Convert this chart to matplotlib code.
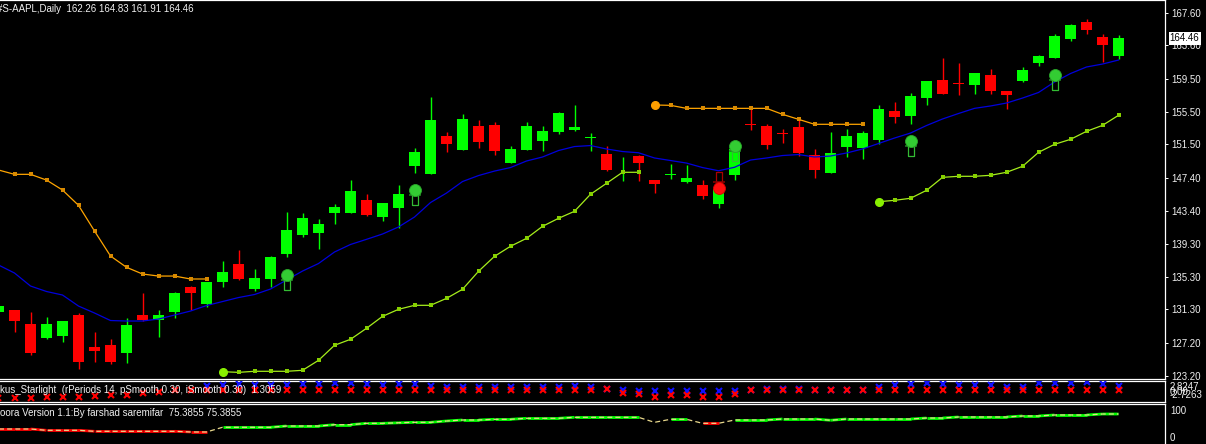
import numpy as np
import matplotlib
matplotlib.use("Agg")
import matplotlib.pyplot as plt
from matplotlib.transforms import offset_copy
from matplotlib.collections import LineCollection

# ---------------- data ----------------
title_text = "#S-AAPL,Daily  162.26 164.83 161.91 164.46"
starlight_text = "kus_Starlight  (rPeriods 14, pSmooth 0.30, iSmooth 0.30)  1.3059"
zoora_text = "oora Version 1.1:By farshad saremifar  75.3855 75.3855"

bar_index = list(range(-1, 70))

opens = [131.03, 131.24, 129.52, 127.81, 128.05, 130.62, 126.71, 126.95, 126.01, 130.62,
         130.05, 131.03, 134.05, 132.00, 134.70, 136.86, 133.84, 135.06, 138.12, 140.44,
         140.69, 143.13, 143.13, 144.69, 142.65, 143.75, 148.88, 147.90, 152.52, 150.84,
         153.74, 153.86, 149.25, 150.84, 151.94, 153.04, 153.29, 152.29, 150.31, 148.79,
         150.07, 147.13, 147.76, 146.93, 146.52, 144.24, 147.75, 153.88, 153.74, 152.82,
         153.62, 150.19, 148.03, 151.21, 151.08, 152.06, 155.57, 155.00, 157.20, 159.37,
         158.90, 158.79, 159.98, 158.02, 159.28, 161.48, 162.09, 164.42, 166.46, 164.62,
         162.26]
highs = [131.90, 131.24, 130.99, 130.34, 129.89, 130.90, 128.54, 127.69, 130.22, 133.31,
         131.24, 133.44, 134.17, 134.66, 137.23, 138.57, 136.25, 137.84, 143.22, 143.10,
         142.36, 144.20, 147.13, 145.42, 144.32, 146.52, 151.05, 157.29, 153.01, 155.21,
         154.47, 154.23, 151.29, 154.23, 153.74, 155.45, 156.31, 152.88, 151.29, 149.91,
         150.19, 147.13, 149.13, 148.97, 147.17, 146.40, 151.05, 156.15, 153.98, 153.37,
         154.60, 150.93, 153.01, 153.37, 153.13, 156.31, 156.67, 157.78, 159.24, 162.06,
         161.44, 160.22, 160.71, 158.02, 160.96, 162.42, 164.99, 166.21, 166.83, 164.99,
         164.83]
lows = [130.80, 128.58, 125.73, 127.69, 127.36, 124.05, 124.91, 124.67, 124.79, 129.93,
        127.97, 130.29, 131.27, 131.64, 134.08, 134.94, 133.59, 134.08, 137.75, 140.20,
        138.73, 141.79, 143.13, 142.77, 142.16, 141.30, 148.03, 147.90, 150.60, 150.84,
        151.08, 150.23, 149.25, 150.84, 150.72, 152.80, 153.16, 150.72, 148.27, 147.05,
        147.05, 145.58, 147.29, 146.80, 144.85, 143.75, 147.17, 153.29, 150.96, 151.70,
        150.11, 147.42, 148.03, 149.98, 149.74, 151.57, 154.14, 154.02, 156.34, 157.69,
        157.57, 157.69, 157.69, 155.85, 159.16, 161.11, 162.09, 164.17, 165.03, 161.60,
        161.91]
closes = [131.73, 129.93, 126.01, 129.52, 129.89, 124.91, 126.26, 124.91, 129.40, 130.05,
          130.62, 133.31, 133.35, 134.66, 135.88, 135.06, 135.15, 137.72, 141.02, 142.49,
          141.75, 143.83, 145.79, 142.89, 144.32, 145.42, 150.56, 154.47, 151.57, 154.60,
          151.82, 150.72, 150.93, 153.74, 153.13, 155.33, 153.62, 152.33, 148.39, 148.83,
          149.25, 146.68, 147.80, 147.38, 145.21, 146.03, 150.93, 153.84, 151.45, 152.78,
          150.47, 148.39, 150.44, 152.52, 152.88, 155.82, 154.88, 157.41, 159.24, 157.69,
          158.86, 160.22, 158.06, 157.57, 160.59, 162.30, 164.75, 166.09, 165.52, 163.68,
          164.46]

ma_line = [136.74, 135.76, 134.17, 133.50, 133.07, 131.72, 130.87, 129.95, 129.89, 129.89,
           130.13, 130.62, 131.11, 131.78, 132.27, 132.76, 133.13, 133.80, 134.90, 136.00,
           136.92, 138.33, 139.25, 139.88, 140.53, 141.39, 142.61, 144.38, 145.54, 146.95,
           147.68, 148.23, 148.66, 149.46, 149.95, 150.74, 151.23, 151.35, 150.93, 150.62,
           150.47, 149.83, 149.52, 149.21, 148.66, 148.27, 148.69, 149.58, 149.83, 150.13,
           150.25, 149.95, 150.07, 150.44, 150.93, 151.60, 152.27, 152.88, 153.80, 154.60,
           155.27, 155.90, 156.19, 156.55, 157.16, 157.84, 159.12, 160.16, 160.96, 161.32,
           161.81]

orange_stop = [148.36, 147.83, 147.83, 147.13, 145.91, 144.04, 140.90, 137.84, 136.46, 135.64,
               135.39, 135.39, 135.03, 135.03,
               None, None, None, None, None, None, None, None, None, None,
               None, None, None, None, None, None, None, None, None, None,
               None, None, None, None, None, None, None,
               156.31, 156.27, 155.90, 155.90, 155.90, 155.90, 155.90, 155.90, 155.17, 154.56,
               153.95, 153.95, 153.95, 153.95,
               None, None, None, None, None, None, None, None, None, None,
               None, None, None, None, None, None]

lime_stop = [None, None, None, None, None, None, None, None, None, None,
             None, None, None, None,
             123.69, 123.61, 123.74, 123.74, 123.74, 123.86, 125.08, 126.92, 127.65, 129.00,
             130.46, 131.32, 131.81, 131.81, 132.66, 133.77, 135.97, 137.80, 139.03, 140.00,
             141.47, 142.45, 143.31, 145.39, 146.73, 148.08, 148.08,
             None, None, None, None, None, None, None, None, None, None,
             None, None, None, None,
             144.48, 144.65, 144.90, 145.87, 147.46, 147.59, 147.59, 147.71, 148.08, 148.81,
             150.52, 151.50, 152.11, 153.09, 153.82, 155.05]

up_signal_bar = [17, 25, 45, 56, 65]
up_signal_price = [135.51, 145.91, 151.29, 151.90, 159.98]
down_signal_bar = [44]
down_signal_price = [146.19]

price_ticks = [167.60, 163.60, 159.50, 155.50, 151.50, 147.40, 143.40, 139.30, 135.30,
               131.30, 127.20, 123.20]

starlight_blue = [None, None, None, None, None, None, None, None, None, None, None, None, None,
                  1.38, 1.65, 1.84, 1.65, 1.65, 1.65, 1.84, 1.84, 2.11, 2.11,
                  1.84, 1.65, 1.84, 1.84, 1.46, 1.18, 1.18, 1.18, 1.18, 1.02,
                  1.02, 1.02, 1.18, 1.38, 1.02, 0.56, 0.28, 0.09, 0.09, 0.09,
                  0.09, 0.09, 0.09, 0.09, 0.28, 0.56, 0.56, 0.56, 0.15, 0.15,
                  0.15, 0.15, 1.02, 1.65, 1.84, 2.11, 1.84, 1.65, 1.65, 1.65,
                  1.18, 1.18, 2.11, 2.11, 2.28, 2.47, 1.84, 1.38]
starlight_red = [-1.99, -1.99, -1.99, -1.71, -1.71, -1.71, -1.36, -1.09, -1.09, -0.62,
                 -0.18, 0.28, 0.28, 0.40,
                 0.15, 0.15, 0.15, 0.15, 0.15, 0.15, 0.15, 0.15, 0.15, 0.15, 0.15, 0.15,
                 0.15, 0.15, 0.15, 0.15, 0.15, 0.15, 0.15, 0.15, 0.15, 0.15, 0.15, 0.15,
                 0.42, -0.46, -0.89, -1.71, -1.17, -1.17, -1.55, -1.71, -0.89,
                 0.15, 0.15, 0.15, 0.15, 0.15, 0.15, 0.15, 0.15, 0.15, 0.15, 0.15, 0.15,
                 0.15, 0.15, 0.15, 0.15, 0.15, 0.15, 0.15, 0.15, 0.15, 0.15, 0.15, 0.15]
starlight_range = [-2.7263, 2.8247]

zoora_value = [37.7, 37.7, 37.7, 34.4, 34.4, 34.4, 31.9, 31.9, 31.9, 31.9,
               31.9, 31.9, 30.2, 30.2, 42.0, 42.0, 42.0, 42.0, 45.2, 45.2,
               45.2, 48.5, 48.5, 52.0, 52.0, 53.3, 54.5, 54.5, 57.8, 60.3,
               60.3, 62.1, 62.1, 64.6, 64.6, 64.6, 67.1, 67.1, 67.1, 67.1,
               67.1, 54.5, 62.1, 62.1, 52.0, 52.0, 60.3, 60.3, 60.3, 62.8,
               62.8, 62.8, 59.6, 62.8, 62.8, 62.8, 62.8, 62.8, 65.3, 65.3,
               67.9, 67.9, 67.9, 67.9, 70.4, 70.4, 72.9, 72.9, 72.9, 75.39,
               75.3855]
zoora_trend = ("rrrrrrrrrrrrrr" "ggggggggggggggggggggggggggg" "n" "gg" "rr"
               "ggggggggggggggggggggggggg")

# ---------------- figure ----------------
W, H = 1206, 444
fig = plt.figure(figsize=(W / 100, H / 100), dpi=100, facecolor="black")


def frame(x0, y0, x1, y1):
    return [x0 / W, 1 - y1 / H, (x1 - x0) / W, (y1 - y0) / H]


ax = fig.add_axes(frame(0, 0, 1165, 378.5))
ax2 = fig.add_axes(frame(0, 380.5, 1165, 401.5))
ax3 = fig.add_axes(frame(0, 403.5, 1165, 444))

XLIM = (-0.90625, 71.906)
for a in (ax, ax2, ax3):
    a.set_facecolor("black")
    a.set_xlim(*XLIM)
    a.set_xticks([])
    for s in a.spines.values():
        s.set_color("white")
        s.set_linewidth(0.9)
    a.spines["left"].set_visible(False)
ax3.spines["bottom"].set_visible(False)

GREEN = "#00ff00"
RED = "#ff0000"
FONT = "Liberation Sans"
TXT = "#f0f0f0"

# ---------------- candles ----------------
x = np.array(bar_index, dtype=float)
o = np.array(opens); h = np.array(highs); l = np.array(lows); c = np.array(closes)
cols = np.where(c >= o, GREEN, RED)
ax.vlines(x, l, h, colors=cols, lw=1.0, zorder=2)
body_bottom = np.minimum(o, c)
body_h = np.maximum(np.abs(c - o), 0.12)
ax.bar(x, body_h, bottom=body_bottom, width=0.6875, color=cols, linewidth=0, zorder=2)

# moving average
ax.plot(x, ma_line, color="#0000dd", lw=0.9, zorder=3)


def stop_line(vals, line_col, dot_col, start_col):
    v = np.array(vals, dtype=float)
    ax.plot(x, v, color=line_col, lw=0.9, zorder=4, marker="s", ms=2.3,
            mfc=dot_col, mec=dot_col, mew=0)
    valid = ~np.isnan(v)
    starts = [k for k in range(1, len(v)) if valid[k] and not valid[k - 1]]
    ax.plot(x[starts], v[starts], ls="none", marker="o", ms=5.5,
            mfc=start_col, mec=start_col, zorder=5)


stop_line(orange_stop, "#ffa500", "#d98a00", "#ff9f00")
stop_line(lime_stop, "#a6ee1c", "#86d000", "#88f000")

# signals
up_t = offset_copy(ax.transData, fig=fig, x=0, y=-7.4, units="points")
up_b = offset_copy(ax.transData, fig=fig, x=0, y=-3.9, units="points")
dn_t = offset_copy(ax.transData, fig=fig, x=0, y=7.4, units="points")
dn_b = offset_copy(ax.transData, fig=fig, x=0, y=3.9, units="points")
rect_marker = [(-0.3, -0.5), (0.3, -0.5), (0.3, 0.5), (-0.3, 0.5), (-0.3, -0.5)]

ax.plot(up_signal_bar, up_signal_price, ls="none", marker=rect_marker, ms=7,
        mfc="none", mec="#33bb33", mew=0.9, transform=up_t, zorder=6)
ax.plot(up_signal_bar, up_signal_price, ls="none", marker="_", ms=9,
        mec="#1f7f1f", mew=1.2, transform=up_b, zorder=6)
ax.plot(up_signal_bar, up_signal_price, ls="none", marker="o", ms=8.6,
        mfc="#33cc33", mec="#2aa82a", mew=0.6, zorder=7)

ax.plot(down_signal_bar, down_signal_price, ls="none", marker=rect_marker, ms=7,
        mfc="none", mec="#aa0000", mew=0.9, transform=dn_t, zorder=6)
ax.plot(down_signal_bar, down_signal_price, ls="none", marker="_", ms=9,
        mec="#880000", mew=1.2, transform=dn_b, zorder=6)
ax.plot(down_signal_bar, down_signal_price, ls="none", marker="o", ms=8.6,
        mfc="#ff1010", mec="#dd0000", mew=0.6, zorder=7)

# price axis
ax.set_ylim(122.859, 169.153)
ax.yaxis.tick_right()
ax.set_yticks(price_ticks)
ax.set_yticklabels([f"{t:.2f}" for t in price_ticks], fontfamily=FONT)
ax.tick_params(axis="y", colors="white", labelcolor=TXT, length=2.2, width=0.7,
               labelsize=7, pad=2)
ax.annotate(f"{closes[-1]:.2f}", xy=(1.0, closes[-1]), xycoords=("axes fraction", "data"),
            xytext=(3.4, 0), textcoords="offset points", ha="left", va="center",
            fontsize=7, color="black", fontfamily=FONT, zorder=10, annotation_clip=False,
            bbox=dict(boxstyle="square,pad=0.12", fc="white", ec="none"))

fig.text(-3 / W, 1 - 8.5 / H, title_text, color=TXT, fontsize=7, fontfamily=FONT,
         ha="left", va="center")

# ---------------- starlight panel ----------------
ax2.set_ylim(-2.863, 2.879)
ax2.set_yticks([])
sb = np.array(starlight_blue, dtype=float)
sr = np.array(starlight_red, dtype=float)
ax2.plot(x, sb, ls="none", marker="x", ms=4.0, mew=1.5, color="#1010ff", zorder=3)
ax2.plot(x, sr, ls="none", marker="x", ms=4.0, mew=1.5, color="#ff0000", zorder=4)
fig.text(0, 1 - 389.5 / H, starlight_text, color=TXT, fontsize=7, fontfamily=FONT,
         ha="left", va="center", zorder=10)
fig.text(1170 / W, 1 - 386.5 / H, f"{starlight_range[1]:.4f}", color=TXT, fontsize=7,
         fontfamily=FONT, ha="left", va="center")
fig.text(1170 / W, 1 - 392.0 / H, "0.00", color=TXT, fontsize=7,
         fontfamily=FONT, ha="left", va="center")
fig.text(1170 / W, 1 - 394.5 / H, f"{starlight_range[0]:.4f}", color=TXT, fontsize=7,
         fontfamily=FONT, ha="left", va="center")

# ---------------- zoora panel ----------------
ax3.set_ylim(0, 101.8)
ax3.set_yticks([])
zv = np.array(zoora_value, dtype=float)
segs, seg_cols = [], []
for k in range(len(zv) - 1):
    t0, t1 = zoora_trend[k], zoora_trend[k + 1]
    if t0 == t1 and t0 in "rg":
        segs.append([(x[k], zv[k]), (x[k + 1], zv[k + 1])])
        seg_cols.append(GREEN if t0 == "g" else RED)
ax3.add_collection(LineCollection(segs, colors=seg_cols, linewidths=2.0, zorder=3,
                                  capstyle="butt"))
ax3.plot(x, zv, color="#e8d88c", lw=0.9, ls=(0, (4, 2.5)), zorder=4)
fig.text(0, 1 - 412.7 / H, zoora_text, color=TXT, fontsize=7, fontfamily=FONT,
         ha="left", va="center")
fig.text(1170 / W, 1 - 410.7 / H, "100", color=TXT, fontsize=7, fontfamily=FONT,
         ha="left", va="center")
fig.text(1170 / W, 1 - 437.7 / H, "0", color=TXT, fontsize=7, fontfamily=FONT,
         ha="left", va="center")

fig.savefig("out.png", dpi=100, facecolor="black")
